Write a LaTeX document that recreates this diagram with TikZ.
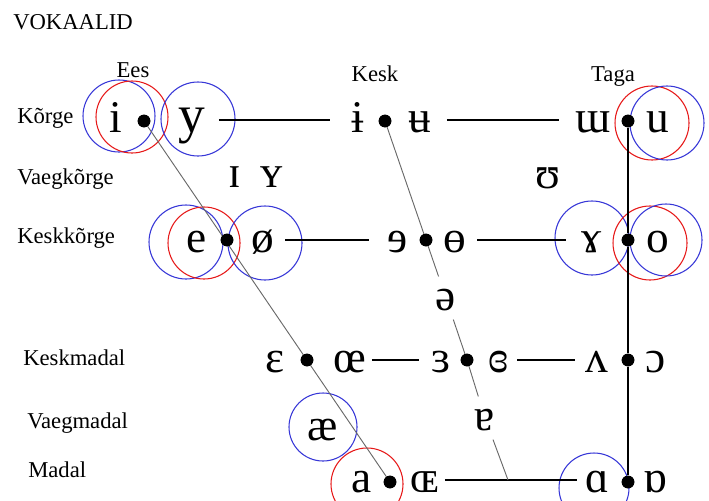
\documentclass[tikz,border=0pt]{standalone}
\usepackage{fontspec}
\setmainfont{Liberation Serif}
\definecolor{cblue}{RGB}{55,55,215}
\definecolor{cred}{RGB}{230,25,25}
\definecolor{cgray}{RGB}{105,105,105}
\begin{document}
\begin{tikzpicture}[x=0.75pt,y=-0.75pt,
  lbl/.style={anchor=base west, inner sep=0pt, font=\fontsize{17}{17}\selectfont},
  hdr/.style={anchor=base, inner sep=0pt, font=\fontsize{17}{17}\selectfont},
  vw/.style={anchor=base, font=\fontsize{34}{34}\selectfont, text height=18pt, text depth=0pt, inner xsep=4pt, inner ysep=1pt},
  gapv/.style={vw, inner ysep=7pt},
  dotn/.style={circle, fill=black, inner sep=0pt, minimum size=9.5pt},
  ring/.style={circle, line width=0.8pt, inner sep=0pt, minimum size={#1*1.5pt}},
  bring/.style={ring=#1, draw=cblue},
  rring/.style={ring=#1, draw=cred},
  hline/.style={line width=1pt},
  vline/.style={line width=1.1pt},
  gline/.style={cgray, line width=0.7pt}]
\useasboundingbox (0,0) rectangle (709,500);
\clip (0,0) rectangle (709,500);

% rings
\node[bring=36] (ringI) at (119,116) {};
\node[rring=36] (ringIr) at (132,117) {};
\node[bring=37] (ringY) at (198,119) {};
\node[rring=37] (ringUr) at (652,123) {};
\node[bring=37] (ringU) at (667,123) {};
\node[bring=37] (ringE) at (186,242) {};
\node[rring=36] (ringEr) at (204,243) {};
\node[bring=37] (ringOe) at (265,243) {};
\node[bring=37] (ringGa) at (592,238) {};
\node[rring=37] (ringOr) at (650,243) {};
\node[bring=36] (ringO) at (666,240) {};
\node[bring=34] (ringAe) at (323,427) {};
\node[rring=36] (ringAr) at (367,484) {};
\node[bring=35] (ringAs) at (594,488) {};

% labels
\node[lbl] (title) at (13,29) {VOKAALID};
\node[hdr] (hEes) at (133,77) {Ees};
\node[hdr] (hKesk) at (375,81) {Kesk};
\node[hdr] (hTaga) at (613,81) {Taga};
\node[lbl] (rK) at (17,123) {Kõrge};
\node[lbl] (rVK) at (17,184) {Vaegkõrge};
\node[lbl] (rKK) at (17,243) {Keskkõrge};
\node[lbl] (rKM) at (23,365) {Keskmadal};
\node[lbl] (rVM) at (27,428) {Vaegmadal};
\node[lbl] (rM) at (28,477) {Madal};

% row 1
\node[vw] (vi) at (116,132) {i};
\node[vw, font=\fontsize{40}{40}\selectfont] (vy) at (192,132) {y};
\node[vw] (vib) at (358,132) {ɨ};
\node[vw] (vub) at (420,132) {ʉ};
\node[vw] (vmw) at (593,132) {ɯ};
\node[vw] (vu) at (658,132) {u};
\node[dotn] (d1f) at (144,121) {};
\node[dotn] (d1c) at (385,121) {};
\node[dotn] (d1b) at (628,121) {};
% row 2
\node[vw] (vsi) at (235,187) {ɪ};
\node[vw] (vsy) at (272,187) {ʏ};
\node[vw] (vsu) at (548,188) {ʊ};
% row 3
\node[vw] (ve) at (197,252) {e};
\node[vw] (vo2) at (263,252) {ø};
\node[vw] (vre) at (398,252) {ɘ};
\node[vw] (vbo) at (455,252) {ɵ};
\node[vw] (vga) at (592,252) {ɤ};
\node[vw] (vo) at (658,252) {o};
\node[dotn] (d3f) at (227,240) {};
\node[dotn] (d3c) at (426,240) {};
\node[dotn] (d3b) at (628,240) {};
% schwa
\node[gapv] (vsch) at (446,310) {ə};
% row 4
\node[vw] (veps) at (275,372) {ɛ};
\node[vw] (voe) at (350,372) {œ};
\node[vw] (vrep) at (441,372) {ɜ};
\node[vw] (vcr) at (499,372) {ɞ};
\node[vw] (vwed) at (597,372) {ʌ};
\node[vw] (vopo) at (656,372) {ɔ};
\node[dotn] (d4f) at (307,360) {};
\node[dotn] (d4c) at (467,360) {};
\node[dotn] (d4b) at (628,360) {};
% row 5
\node[vw] (vae) at (323,440) {æ};
\node[gapv] (vta) at (485,430) {ɐ};
% row 6
\node[vw] (va) at (362,492) {a};
\node[vw] (vOE) at (425,492) {ɶ};
\node[vw] (vas) at (597,492) {ɑ};
\node[vw] (vtas) at (655,492) {ɒ};
\node[dotn] (d6f) at (390,482) {};
\node[dotn] (d6b) at (628,482) {};
\coordinate (cbx) at (508,0);
\coordinate (cb) at (vas.west -| cbx);

% horizontal lines
\draw[hline, shorten <=6pt, shorten >=12pt] (vy.east) -- (vib.west);
\draw[hline, shorten <=7.5pt, shorten >=8pt] (vub.east) -- (vmw.west);
\draw[hline, shorten <=4pt, shorten >=10pt] (vo2.east) -- (vre.west);
\draw[hline, shorten <=4pt, shorten >=7.5pt] (vbo.east) -- (vga.west);
\draw[hline, shorten >=5pt] (voe.east) -- (vrep.west);
\draw[hline, shorten <=2pt, shorten >=4pt] (vcr.east) -- (vwed.west);
\draw[hline, shorten >=2pt] (vOE.east) -- (vas.west);
% back vertical
\draw[vline] (d1b) -- (d3b) -- (d4b) -- (d6b);
% front diagonal
\draw[gline] (d1f.center) -- (d6f.center);
% central diagonal
\draw[gline] (d1c.center) -- (d3c.center) -- (vsch) -- (d4c.center) -- (vta) -- (cb);
% redraw dots on top
\foreach \d in {d1f,d1c,d1b,d3f,d3c,d3b,d4f,d4c,d4b,d6f,d6b}
  \fill (\d) circle (6.3);
\end{tikzpicture}
\end{document}
